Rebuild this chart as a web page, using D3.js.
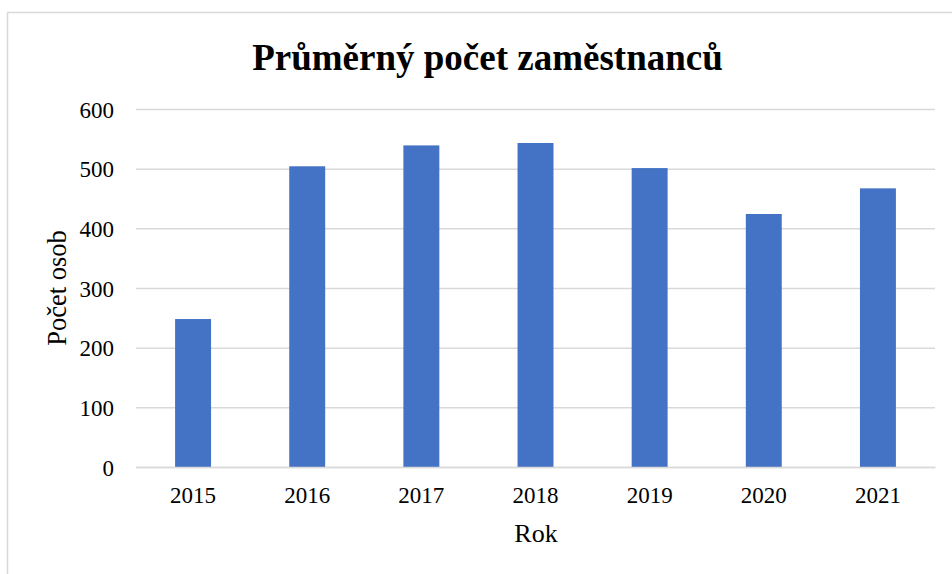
<!DOCTYPE html>
<html>
<head>
<meta charset="utf-8">
<script src="https://cdn.jsdelivr.net/npm/d3@7"></script>
<style>
  body { margin: 0; background: #fff; }
  text { font-family: "Liberation Serif", "Times New Roman", serif; fill: #000; }
</style>
</head>
<body>
<div id="chart-area"></div>
<script>
// data
var years = ["2015", "2016", "2017", "2018", "2019", "2020", "2021"];
var employees = [248, 504, 539, 543, 501, 424, 467];
var yTicks = [0, 100, 200, 300, 400, 500, 600];

var data = years.map(function(y, i) { return { year: y, value: employees[i] }; });

var margin = { left: 136, right: 17, top: 109, bottom: 107 };
var width = 952 - margin.left - margin.right,
    height = 574 - margin.top - margin.bottom;

var svg = d3.select("#chart-area")
  .append("svg")
  .attr("width", 952)
  .attr("height", 574);

// chart frame
svg.append("rect")
  .attr("x", 7.5).attr("y", 12.5)
  .attr("width", 960).attr("height", 580)
  .attr("fill", "none")
  .attr("stroke", "#d9d9d9")
  .attr("stroke-width", 1.5);

var g = svg.append("g")
  .attr("transform", "translate(" + margin.left + "," + margin.top + ")");

// scales
var xScale = d3.scaleBand()
  .domain(years)
  .range([0, width])
  .paddingInner(0.685)
  .paddingOuter(0.3425);

var yScale = d3.scaleLinear()
  .domain([0, 600])
  .range([height, 0]);

// gridlines
g.append("g")
  .attr("class", "grid")
  .call(d3.axisLeft(yScale).tickValues(yTicks).tickSize(-width).tickFormat(""))
  .call(function(s) {
    s.select(".domain").remove();
    s.selectAll("line").attr("stroke", "#d9d9d9").attr("stroke-width", 1.5);
  });

// y axis labels
g.append("g")
  .call(d3.axisLeft(yScale).tickValues(yTicks).tickSize(0).tickPadding(22))
  .call(function(s) {
    s.select(".domain").remove();
    s.selectAll("text")
      .attr("font-size", "23px")
      .attr("dy", "0.35em");
  });

// bars
g.selectAll("rect.bar")
  .data(data)
  .enter()
  .append("rect")
  .attr("class", "bar")
  .attr("x", function(d) { return xScale(d.year); })
  .attr("width", xScale.bandwidth())
  .attr("y", function(d) { return yScale(d.value); })
  .attr("height", function(d) { return height - yScale(d.value); })
  .attr("fill", "#4472c4");

// x axis
g.append("g")
  .attr("transform", "translate(0," + height + ")")
  .call(d3.axisBottom(xScale).tickSize(0).tickPadding(20))
  .call(function(s) {
    s.select(".domain").attr("stroke", "#d9d9d9").attr("stroke-width", 1.5);
    s.selectAll("text").attr("font-size", "23px");
  });

// title
svg.append("text")
  .attr("x", 487.5)
  .attr("y", 70)
  .attr("text-anchor", "middle")
  .attr("font-size", "37px")
  .attr("font-weight", "bold")
  .text("Průměrný počet zaměstnanců");

// x axis label
svg.append("text")
  .attr("x", 536)
  .attr("y", 542)
  .attr("text-anchor", "middle")
  .attr("font-size", "26px")
  .text("Rok");

// y axis label
svg.append("text")
  .attr("transform", "translate(66,288) rotate(-90)")
  .attr("text-anchor", "middle")
  .attr("font-size", "26.5px")
  .text("Počet osob");
</script>
</body>
</html>
